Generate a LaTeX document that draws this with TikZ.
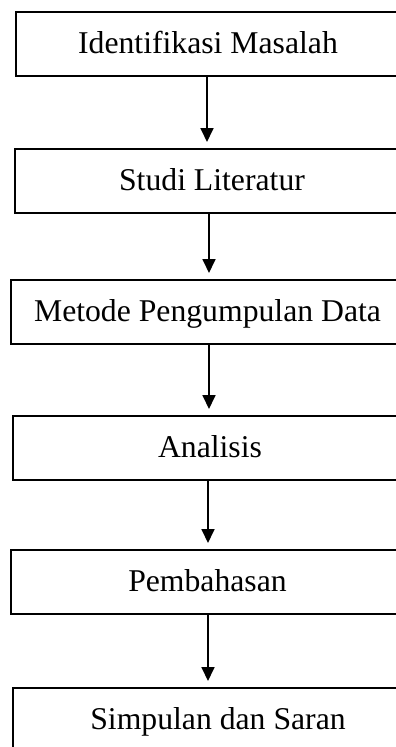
\documentclass[tikz,border=0pt]{standalone}
\usepackage{fontspec}
\setmainfont{Liberation Serif}
\usetikzlibrary{arrows.meta}
\tikzset{
  stepbox/.style={draw=black, line width=2pt, rectangle, inner sep=0pt,
    minimum height=64pt, text height=22pt, text depth=4pt,
    font=\fontsize{31.7}{38}\selectfont},
  arr/.style={line width=1.8pt, -{Triangle[width=13pt,length=14pt]}, shorten >=6pt}
}
\begin{document}
\begin{tikzpicture}[x=1pt,y=-1pt]
\clip (0,0) rectangle (396,747);
\node[stepbox, minimum width=384pt] (b1) at (208,44) {Identifikasi Masalah};
\node[stepbox, minimum width=394pt] (b2) at (212,181) {Studi Literatur};
\node[stepbox, minimum width=393pt] (b3) at (207.5,312) {Metode Pengumpulan Data};
\node[stepbox, minimum width=394pt] (b4) at (210,448) {Analisis};
\node[stepbox, minimum width=393pt] (b5) at (207.5,582) {Pembahasan};
\node[stepbox, minimum width=410pt] (b6) at (218,720) {Simpulan dan Saran};
\draw[arr] ([xshift=-1pt]b1.south) -- ([xshift=-1pt]b1.south |- b2.north);
\draw[arr] ([xshift=-3pt]b2.south) -- ([xshift=-3pt]b2.south |- b3.north);
\draw[arr] ([xshift=1.5pt]b3.south) -- ([xshift=1.5pt]b3.south |- b4.north);
\draw[arr] ([xshift=-2pt]b4.south) -- ([xshift=-2pt]b4.south |- b5.north);
\draw[arr] ([xshift=0.5pt]b5.south) -- ([xshift=0.5pt]b5.south |- b6.north);
\end{tikzpicture}
\end{document}
